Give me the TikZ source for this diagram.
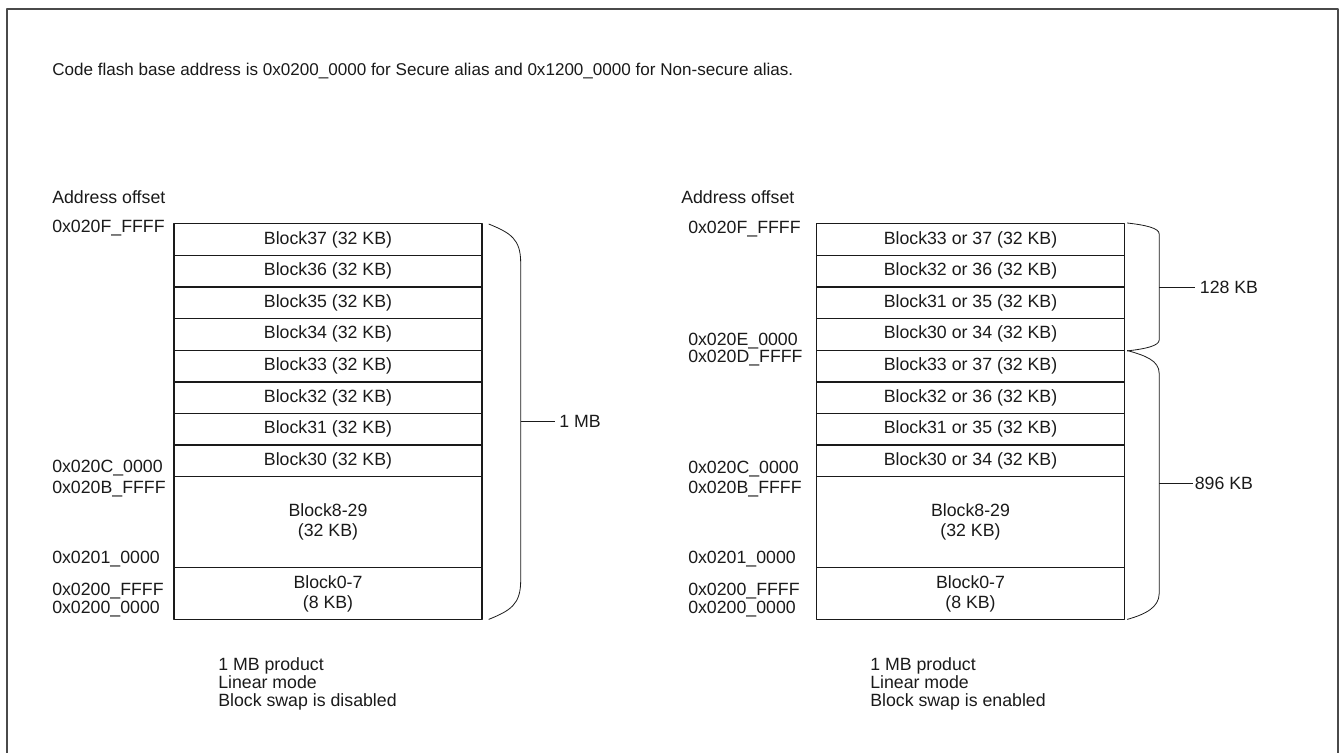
\documentclass[tikz,border=0pt]{standalone}
\usepackage{fontspec}
\setmainfont{Liberation Sans}
\usetikzlibrary{calc,positioning}
\definecolor{ink}{HTML}{1A1A1A}
\definecolor{frmcol}{HTML}{4A4A4A}

\begin{document}
\begin{tikzpicture}[x=0.75pt, y=-0.75pt,
  font=\fontsize{13.3}{15}\selectfont, line join=round,
  blk/.style={draw=ink, line width=1.05pt, minimum width=231pt,
              minimum height=23.72pt, inner sep=0pt, anchor=north,
              align=center, text=ink},
  adr/.style={anchor=base west, inner sep=0pt, text=ink},
  sz/.style={anchor=west, text=ink},
  note/.style={anchor=north west, inner sep=0pt, align=left, text=ink,
               font=\fontsize{13.3}{13.5}\selectfont},
  brc/.style={draw=ink, line width=0.6pt}]

\def\xl{328}      % left map centre
\def\xr{970.5}    % right map centre
\def\rh{31.625}   % one 32 KB row

\useasboundingbox (0,0) rectangle (1340,753);
\draw[frmcol, line width=1.4pt] (7,753) -- (7,9) -- (1338,9) -- (1338,753);

\node[adr, font=\fontsize{12.8}{15}\selectfont] (title) at (52,75)
  {Code flash base address is 0x0200\_0000 for Secure alias and 0x1200\_0000 for Non-secure alias.};

% ---------------------------------------------------------------- left map
\node[adr] (Lhdr) at (52,203) {Address offset};
\foreach \n [count=\i from 0] in {37,36,35,34,33,32,31,30}
  \node[blk] (L\n) at (\xl,223+\i*\rh) {Block\n{} (32 KB)};
\node[blk, minimum height=68.25pt] (L829) at (\xl,476) {Block8-29\\(32 KB)};
\node[blk, minimum height=39pt] (L07) at (\xl,567) {Block0-7\\(8 KB)};

\foreach \t/\yy [count=\i] in {0x020F\_FFFF/232, 0x020C\_0000/472, 0x020B\_FFFF/493,
                              0x0201\_0000/563, 0x0200\_FFFF/595, 0x0200\_0000/613}
  \node[adr] (La\i) at (52,\yy) {\t};

\coordinate (Lb1) at ($(L37.north east)+(6,1)$);
\coordinate (Lb2) at ($(Lb1)+(32,39)$);
\coordinate (Lb4) at ($(L07.south east)+(6,-1)$);
\coordinate (Lb3) at ($(Lb4)+(32,-39)$);
\coordinate (Lbm) at ($(Lb2)!0.5!(Lb3)$);
\draw[brc] (Lb1) .. controls +(22,9) and +(0,-24) .. (Lb2) -- (Lb3)
  .. controls +(0,24) and +(22,-9) .. (Lb4);
\node[sz] (Lsz) at ($(Lbm)+(34,0)$) {1 MB};
\draw[brc] (Lbm) -- (Lsz.west);

\node[note] (Lnote) at (218,657) {1 MB product\\Linear mode\\Block swap is disabled};

% ---------------------------------------------------------------- right map
\node[adr] (Rhdr) at (681,203) {Address offset};
\foreach \a/\b [count=\i from 0] in {33/37,32/36,31/35,30/34}{
  \node[blk] (RU\a) at (\xr,223+\i*\rh) {Block\a{} or \b{} (32 KB)};
  \node[blk] (RL\a) at (\xr,223+\i*\rh+4*\rh) {Block\a{} or \b{} (32 KB)};
}
\node[blk, minimum height=68.25pt] (R829) at (\xr,476) {Block8-29\\(32 KB)};
\node[blk, minimum height=39pt] (R07) at (\xr,567) {Block0-7\\(8 KB)};

\foreach \t/\yy [count=\i] in {0x020F\_FFFF/233, 0x020E\_0000/345, 0x020D\_FFFF/362,
                              0x020C\_0000/473, 0x020B\_FFFF/493, 0x0201\_0000/563,
                              0x0200\_FFFF/595, 0x0200\_0000/613}
  \node[adr] (Ra\i) at (688,\yy) {\t};

% upper brace, 128 KB
\coordinate (Ru1) at ($(RU33.north east)+(2,0)$);
\coordinate (Ru2) at ($(Ru1)+(32,11)$);
\coordinate (Ru4) at ($(RU30.south east)+(2,0)$);
\coordinate (Ru3) at ($(Ru4)+(32,-11)$);
\coordinate (Rum) at ($(Ru2)!0.5!(Ru3)$);
\draw[brc] (Ru1) .. controls +(18,2) and +(0,-6) .. (Ru2) -- (Ru3)
  .. controls +(0,6) and +(18,-2) .. (Ru4);
\node[sz] (Rusz) at ($(Rum)+(36,0)$) {128 KB};
\draw[brc] (Rum) -- (Rusz.west);

% lower brace, 896 KB
\coordinate (Rl1) at ($(RL33.north east)+(2,1)$);
\coordinate (Rl2) at ($(Rl1)+(32,23)$);
\coordinate (Rl4) at ($(R07.south east)+(2,-1)$);
\coordinate (Rl3) at ($(Rl4)+(32,-26)$);
\coordinate (Rlm) at ($(Rl2)!0.5!(Rl3)$);
\draw[brc] (Rl1) .. controls +(18,5) and +(0,-13) .. (Rl2) -- (Rl3)
  .. controls +(0,14) and +(18,-5) .. (Rl4);
\node[sz, inner sep=1pt] (Rlsz) at ($(Rlm)+(34,0)$) {896 KB};
\draw[brc] (Rlm) -- (Rlsz.west);

\node[note] (Rnote) at (870,657) {1 MB product\\Linear mode\\Block swap is enabled};

\end{tikzpicture}
\end{document}
